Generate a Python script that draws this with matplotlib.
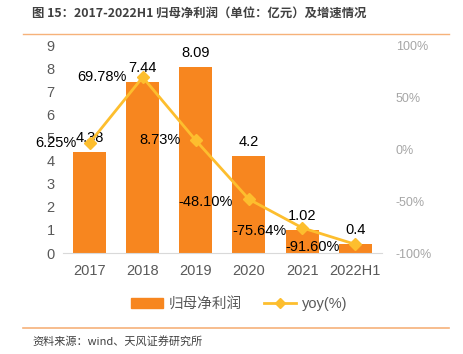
import matplotlib

matplotlib.use("Agg")
import matplotlib.pyplot as plt
from matplotlib.lines import Line2D
from matplotlib.patches import Patch
from matplotlib.ticker import FuncFormatter

plt.rcParams["font.family"] = ["Liberation Sans", "Noto Sans CJK SC", "DejaVu Sans"]

years = ["2017", "2018", "2019", "2020", "2021", "2022H1"]
profit = [4.38, 7.44, 8.09, 4.2, 1.02, 0.4]
yoy = [6.25, 69.78, 8.73, -48.10, -75.64, -91.60]
profit_labels = ["4.38", "7.44", "8.09", "4.2", "1.02", "0.4"]
yoy_labels = ["6.25%", "69.78%", "8.73%", "-48.10%", "-75.64%", "-91.60%"]

bar_color = "#F7861F"
line_color = "#FDBE2E"
rule_color = "#F6B27A"

fig = plt.figure(figsize=(4.64, 3.54), dpi=100)
ax = fig.add_axes([0.1358, 0.2853, 0.687, 0.585])
ax2 = ax.twinx()

x = list(range(len(years)))
ax.bar(x, profit, width=0.62, color=bar_color, zorder=2)
ax.set_xlim(-0.5, 5.5)
ax.set_ylim(0, 9)
ax.set_yticks(range(0, 10))
ax.set_xticks(x)
ax.set_xticklabels(years)
ax.tick_params(axis="both", length=0, labelsize=10.5, colors="#595959", pad=6)
ax.tick_params(axis="x", pad=8)
for side in ["top", "right", "left"]:
    ax.spines[side].set_visible(False)
ax.spines["bottom"].set_color("#D9D9D9")

for xi, v, lab in zip(x, profit, profit_labels):
    ax.annotate(lab, (xi, v), xytext=(0, 10), textcoords="offset points",
                ha="center", va="center", fontsize=10.5, color="black")

ax2.plot(x, yoy, color=line_color, lw=2, marker="D", markersize=6, zorder=3)
ax2.set_ylim(-100, 100)
ax2.set_yticks([-100, -50, 0, 50, 100])
ax2.yaxis.set_major_formatter(FuncFormatter(lambda v, p: f"{v:.0f}%"))
ax2.tick_params(axis="y", length=0, labelsize=9, colors="#A6A6A6", pad=10)
for side in ["top", "right", "left", "bottom"]:
    ax2.spines[side].set_visible(False)

yoy_offsets = [(-24, 0), (-29, 0), (-26, 0), (-31, -2), (-31, -2), (-31, -2)]
for xi, v, lab, off in zip(x, yoy, yoy_labels, yoy_offsets):
    ax2.annotate(lab, (xi, v), xytext=off, textcoords="offset points",
                 ha="center", va="center", fontsize=10.5, color="black", zorder=5)

handles = [
    Patch(color=bar_color, label="归母净利润"),
    Line2D([0], [0], color=line_color, lw=2, marker="D", markersize=5, label="yoy(%)"),
]
fig.legend(handles=handles, loc="center", bbox_to_anchor=(0.515, 0.142), ncol=2,
           frameon=False, fontsize=10.5, handlelength=2.2, columnspacing=1.5,
           labelcolor="#595959", handletextpad=0.4)

fig.text(0.069, 0.962, "图 15：2017-2022H1 归母净利润（单位：亿元）及增速情况",
         family=["Noto Sans CJK SC", "DejaVu Sans"], fontsize=8.9,
         fontweight="bold", color="#404040", va="center")
fig.add_artist(Line2D([0.05, 0.968], [0.904, 0.904], color=rule_color, lw=1))
fig.add_artist(Line2D([0.05, 0.968], [0.074, 0.074], color=rule_color, lw=1.2))
fig.text(0.069, 0.036, "资料来源：wind、天风证券研究所",
         family=["Noto Sans CJK SC", "DejaVu Sans"], fontsize=8,
         color="#404040", va="center")

fig.savefig("out.png", dpi=100)
